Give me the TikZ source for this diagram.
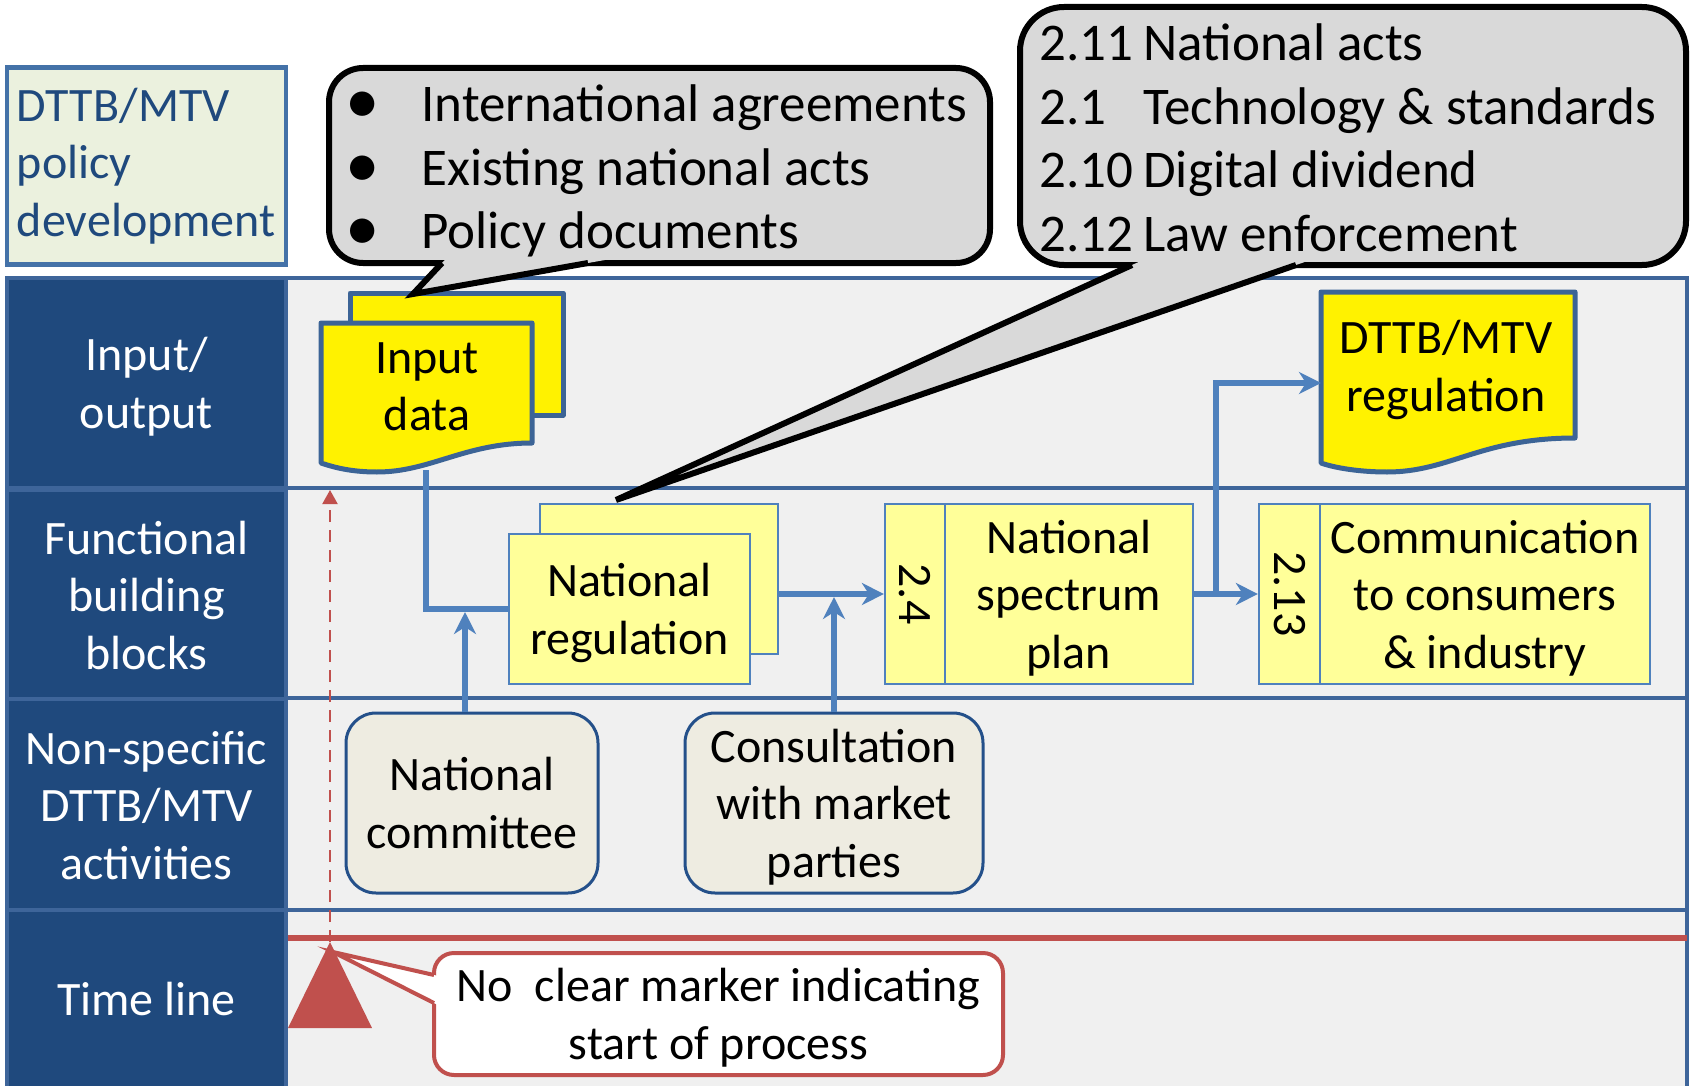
\documentclass[tikz,border=0pt]{standalone}
\usepackage{fontspec}
\setmainfont{Carlito}
\usetikzlibrary{arrows.meta,calc}
\definecolor{navy}{HTML}{1F497D}
\definecolor{laneline}{HTML}{3E659A}
\definecolor{flowblue}{HTML}{4F81BD}
\definecolor{docborder}{HTML}{3C6496}
\definecolor{lightyel}{HTML}{FFFF99}
\definecolor{beige}{HTML}{EEECE1}
\definecolor{cgray}{HTML}{D9D9D9}
\definecolor{lanebg}{HTML}{F0F0F0}
\definecolor{tred}{HTML}{C0504D}
\definecolor{titlefill}{HTML}{EBF1DE}
\definecolor{titleline}{HTML}{4472A8}
\definecolor{actline}{HTML}{24508A}
\newcommand\dgfont{\fontsize{24pt}{28.75pt}\selectfont}
\newcommand\dgbig{\fontsize{26.5pt}{31.75pt}\selectfont}
\newcommand\dgbullet{\makebox[38pt][l]{\raisebox{-1pt}{\scalebox{1.3}{\textbullet}}}}
\begin{document}
\begin{tikzpicture}[x=0.5pt,y=-0.5pt,
  every node/.style={font=\dgfont, inner sep=0pt},
  lanebox/.style={draw=laneline, line width=2.25pt, fill=lanebg},
  leftcell/.style={draw=laneline, line width=2.25pt, fill=navy, text=white, align=center, minimum width=139.5pt, text depth=0pt},
  titlebox/.style={draw=titleline, line width=2.25pt, fill=titlefill, text=navy, align=left, text width=129.5pt, inner xsep=5pt, minimum height=98.5pt},
  ybox/.style={draw=flowblue, line width=1.1pt, fill=lightyel, align=center, text depth=0pt},
  docshape/.style={draw=docborder, line width=2.5pt, fill=yellow, line join=round},
  act/.style={draw=actline, line width=1.5pt, fill=beige, rounded corners=15pt, align=center, text depth=0pt},
  callout/.style={draw=black, line width=3pt, fill=cgray},
  flow/.style={draw=flowblue, line width=3pt},
  arr/.style={-{Stealth[length=11pt,width=11pt,inset=3.5pt]}},
  dashred/.style={draw=tred, line width=1pt, dash pattern=on 6pt off 4pt, -{Triangle[length=7pt,width=7.5pt]}},
]
\useasboundingbox (0,0) rectangle (1692,1086);
\fill[white] (0,0) rectangle (1692,1086);

% lanes
\draw[lanebox] (7,278) rectangle (1687,488);
\draw[lanebox] (7,488) rectangle (1687,698);
\draw[lanebox] (7,698) rectangle (1687,910);
\draw[lanebox] (7,910) rectangle (1687,1100);

\node[leftcell, minimum height=105pt] (lio) at (146.5,383) {Input/\\output};
\node[leftcell, minimum height=105pt] (lfb) at (146.5,595) {Functional\\building\\blocks};
\node[leftcell, minimum height=106pt] (lns) at (146.5,805) {Non-specific\\DTTB/MTV\\activities};
\node[leftcell, minimum height=89pt] (ltl) at (146.5,999) {Time line};

% title
\node[titlebox] (title) at (146.5,166) {DTTB/MTV\\policy\\development};

% time line
\draw[tred, line width=3pt] (288,938) -- (1687,938);
\coordinate (apex) at (330,942);
\coordinate (dtop) at (330,490);
\draw[dashred] (apex) -- (dtop);
\fill[tred] (apex) -- (372,1028) -- (288,1028) -- cycle;

% time line callout
\draw[draw=tred, line width=2pt, fill=white, rounded corners=10pt] (434,953) rectangle (1003,1075);
\coordinate (tlT) at (333,952);
\coordinate (tlB1) at (434,975);
\coordinate (tlB2) at (434,1003);
\fill[white] ($(tlT)!1.05!(tlB1)$) -- (tlT) -- ($(tlT)!1.05!(tlB2)$) -- cycle;
\draw[tred, line width=2pt] (tlB1) -- (tlT) -- (tlB2);
\node[align=center, text depth=0pt] (tltext) at (718.5,1014) {No\ \ clear marker indicating\\start of process};

% input data documents
\draw[docshape] (350,293) rectangle (563,415);
\draw[docshape] (321,323) -- (532,323) -- (532,443)
  .. controls (465,443) and (430,472) .. (377,472)
  .. controls (350,472) and (333,467) .. (321,463) -- cycle;
\node[align=center] (indata) at (427,387) {Input\\data};
\coordinate (inb) at (426,470);

% regulation document
\draw[docshape] (1321,292) -- (1575,292) -- (1575,438)
  .. controls (1480,438) and (1450,472) .. (1387,472)
  .. controls (1360,472) and (1335,468) .. (1321,463) -- cycle;
\node[align=center, text depth=0pt] (regtext) at (1446,366) {DTTB/MTV\\regulation};
\coordinate (regin) at (1321,383);

% functional boxes
\node[ybox, minimum width=119pt, minimum height=75pt] (nrb) at (659,579) {};
\node[ybox, minimum width=120.5pt, minimum height=75pt] (nrf) at (629.5,609) {National\\regulation};
\node[ybox, minimum width=30pt, minimum height=90pt] (n24) at (915,594) {};
\node[rotate=-90] (t24) at (n24.center) {2.4};
\node[ybox, minimum width=124pt, minimum height=90pt] (b24) at (1069,594) {National\\spectrum\\plan};
\node[ybox, minimum width=30.5pt, minimum height=90pt] (n213) at (1289.5,594) {};
\node[rotate=-90] (t213) at (n213.center) {2.13};
\node[ybox, minimum width=165pt, minimum height=90pt] (b213) at (1485,594) {Communication\\to consumers\\\& industry};

% activities
\node[act, minimum width=126pt, minimum height=90pt] (comm) at (472,803) {National\\committee};
\node[act, minimum width=149pt, minimum height=90pt] (cons) at (834,803) {Consultation\\with market\\parties};

% connectors
\draw[flow] (inb) |- (nrf.west);
\coordinate (ca) at ($(comm.north)+(-7,0)$);
\draw[flow, arr, shorten >=1.5pt] (ca) -- (ca |- nrf.west);
\draw[flow, arr] (nrb.east |- n24.west) -- (n24.west);
\draw[flow, arr, shorten >=1.5pt] (cons.north) -- (cons.north |- n24.west);
\draw[flow, arr] (b24.east) -- (n213.west);
\coordinate (br) at ($(b24.east)+(22,0)$);
\draw[flow, arr] (br) |- (regin);

% callout 1
\draw[callout, rounded corners=17pt] (329,68) rectangle (990,263);
\coordinate (c1T) at (413,294);
\coordinate (c1A) at (442,263);
\coordinate (c1B) at (588,263);
\fill[cgray] ($(c1T)!1.12!(c1A)$) -- (c1T) -- ($(c1T)!1.12!(c1B)$) -- cycle;
\draw[black, line width=3pt] (c1A) -- (c1T) -- (c1B);
\node[font=\dgbig, align=left, anchor=west] (c1text) at (345,171)
  {\dgbullet International agreements\\
   \dgbullet Existing national acts\\
   \dgbullet Policy documents};

% callout 2
\draw[callout, rounded corners=22pt] (1020,7) rectangle (1686,265);
\coordinate (c2T) at (616,500);
\coordinate (c2A) at (1132,265);
\coordinate (c2B) at (1296,265);
\fill[cgray] ($(c2T)!1.018!(c2A)$) -- (c2T) -- ($(c2T)!1.018!(c2B)$) -- cycle;
\draw[black, line width=3pt] (c2A) -- (c2T) -- (c2B);
\node[font=\dgbig, align=left, anchor=west] (c2text) at (1039,138)
  {\makebox[52pt][l]{2.11}National acts\\
   \makebox[52pt][l]{2.1}Technology \& standards\\
   \makebox[52pt][l]{2.10}Digital dividend\\
   \makebox[52pt][l]{2.12}Law enforcement};
\end{tikzpicture}
\end{document}
